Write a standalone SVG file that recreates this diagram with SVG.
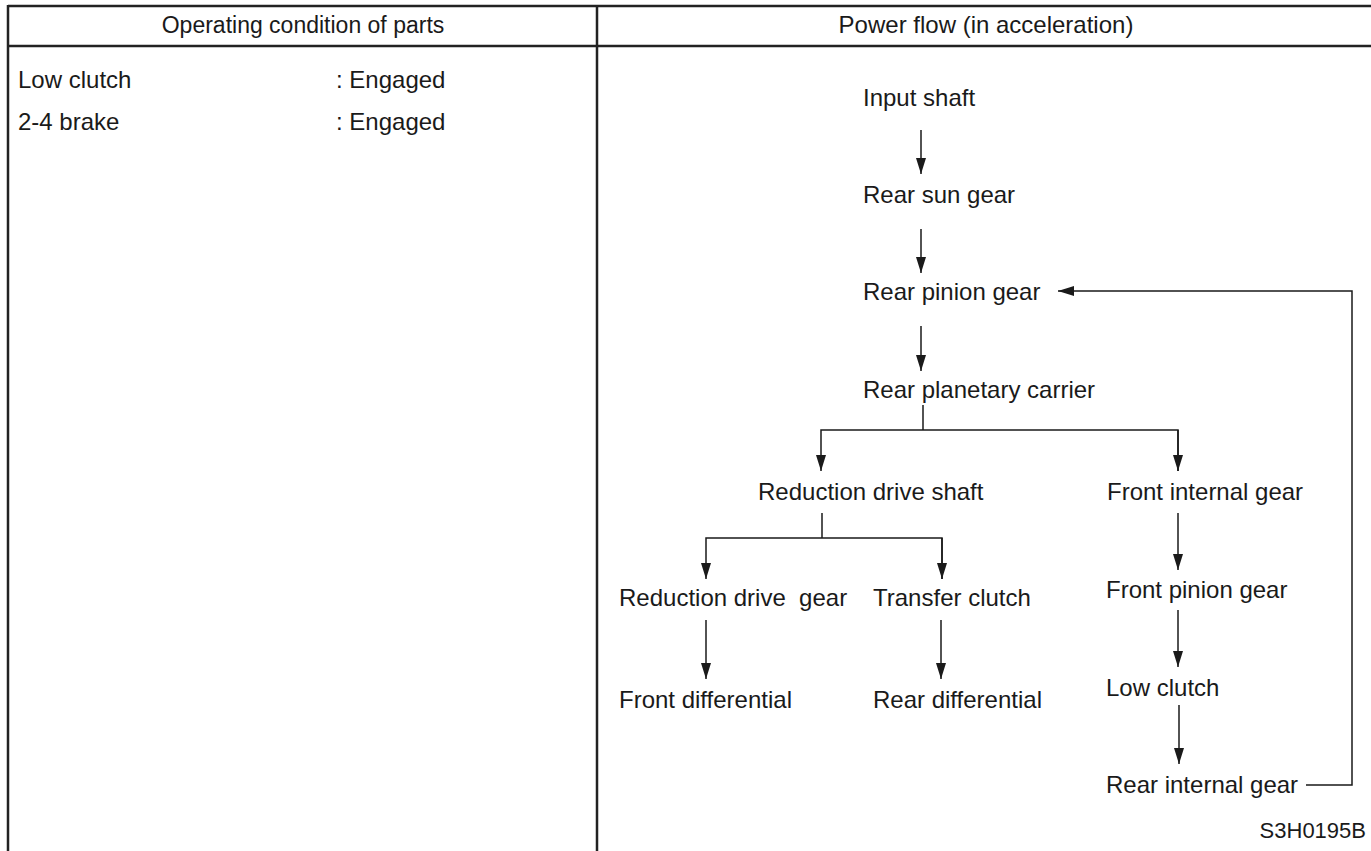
<svg xmlns="http://www.w3.org/2000/svg" width="1371" height="851" viewBox="0 0 1371 851">
<style>
text{font-family:"Liberation Sans",Arial,sans-serif;font-size:24px;fill:#1a1a1a}
.c{text-anchor:middle}
.r{text-anchor:end}
.frame{stroke:#222;stroke-width:2.5;fill:none}
.ln{stroke:#1a1a1a;stroke-width:1.5;fill:none}
</style>
<defs>
<marker id="ah" viewBox="0 0 16 10" markerWidth="16" markerHeight="10" refX="16" refY="5" orient="auto" markerUnits="userSpaceOnUse">
<path d="M0,0 L16,5 L0,10 z" fill="#1a1a1a"/>
</marker>
</defs>
<g id="table">
<line class="frame" x1="8" y1="6" x2="1371" y2="6"/>
<line class="frame" x1="8" y1="46" x2="1371" y2="46"/>
<line class="frame" x1="8" y1="5" x2="8" y2="851"/>
<line class="frame" x1="597" y1="5" x2="597" y2="851"/>
<text class="c" x="303" y="33" style="font-size:23px">Operating condition of parts</text>
<text class="c" x="986" y="33">Power flow (in acceleration)</text>
</g>
<g id="conditions">
<text x="18" y="88">Low clutch</text>
<text x="336" y="88">: Engaged</text>
<text x="18" y="130">2-4 brake</text>
<text x="336" y="130">: Engaged</text>
</g>
<g id="n-input"><text x="863" y="106">Input shaft</text></g>
<g id="n-rsun"><text x="863" y="203">Rear sun gear</text></g>
<g id="n-rpin"><text x="863" y="300">Rear pinion gear</text></g>
<g id="n-rcarrier"><text x="863" y="398">Rear planetary carrier</text></g>
<g id="n-rds"><text x="758" y="500">Reduction drive shaft</text></g>
<g id="n-fig"><text x="1107" y="500">Front internal gear</text></g>
<g id="n-rdg"><text x="619" y="606" xml:space="preserve">Reduction drive  gear</text></g>
<g id="n-tc"><text x="873" y="606">Transfer clutch</text></g>
<g id="n-fpg"><text x="1106" y="598">Front pinion gear</text></g>
<g id="n-fd"><text x="619" y="708">Front differential</text></g>
<g id="n-rd"><text x="873" y="708">Rear differential</text></g>
<g id="n-lc"><text x="1106" y="696">Low clutch</text></g>
<g id="n-rig"><text x="1106" y="793">Rear internal gear</text></g>
<g id="code"><text class="r" x="1366" y="838" style="font-size:22px">S3H0195B</text></g>
<g id="connectors">
<line class="ln" x1="921" y1="130" x2="921" y2="174" marker-end="url(#ah)"/>
<line class="ln" x1="921" y1="229" x2="921" y2="273" marker-end="url(#ah)"/>
<line class="ln" x1="921" y1="326" x2="921" y2="371" marker-end="url(#ah)"/>
<path class="ln" d="M923,405 V430"/>
<path class="ln" d="M1178,471 V430 H821 V471" marker-end="url(#ah)"/>
<path class="ln" d="M1178,430 V471" marker-end="url(#ah)"/>
<path class="ln" d="M822,513 V538"/>
<path class="ln" d="M942,579 V538 H706 V579" marker-end="url(#ah)"/>
<path class="ln" d="M942,538 V579" marker-end="url(#ah)"/>
<line class="ln" x1="706" y1="620" x2="706" y2="679" marker-end="url(#ah)"/>
<line class="ln" x1="941" y1="620" x2="941" y2="679" marker-end="url(#ah)"/>
<line class="ln" x1="1178" y1="513" x2="1178" y2="570" marker-end="url(#ah)"/>
<line class="ln" x1="1178" y1="610" x2="1178" y2="667" marker-end="url(#ah)"/>
<line class="ln" x1="1179" y1="705" x2="1179" y2="764" marker-end="url(#ah)"/>
<path class="ln" d="M1306,785 H1352 V291 H1058" marker-end="url(#ah)"/>
</g>
</svg>
